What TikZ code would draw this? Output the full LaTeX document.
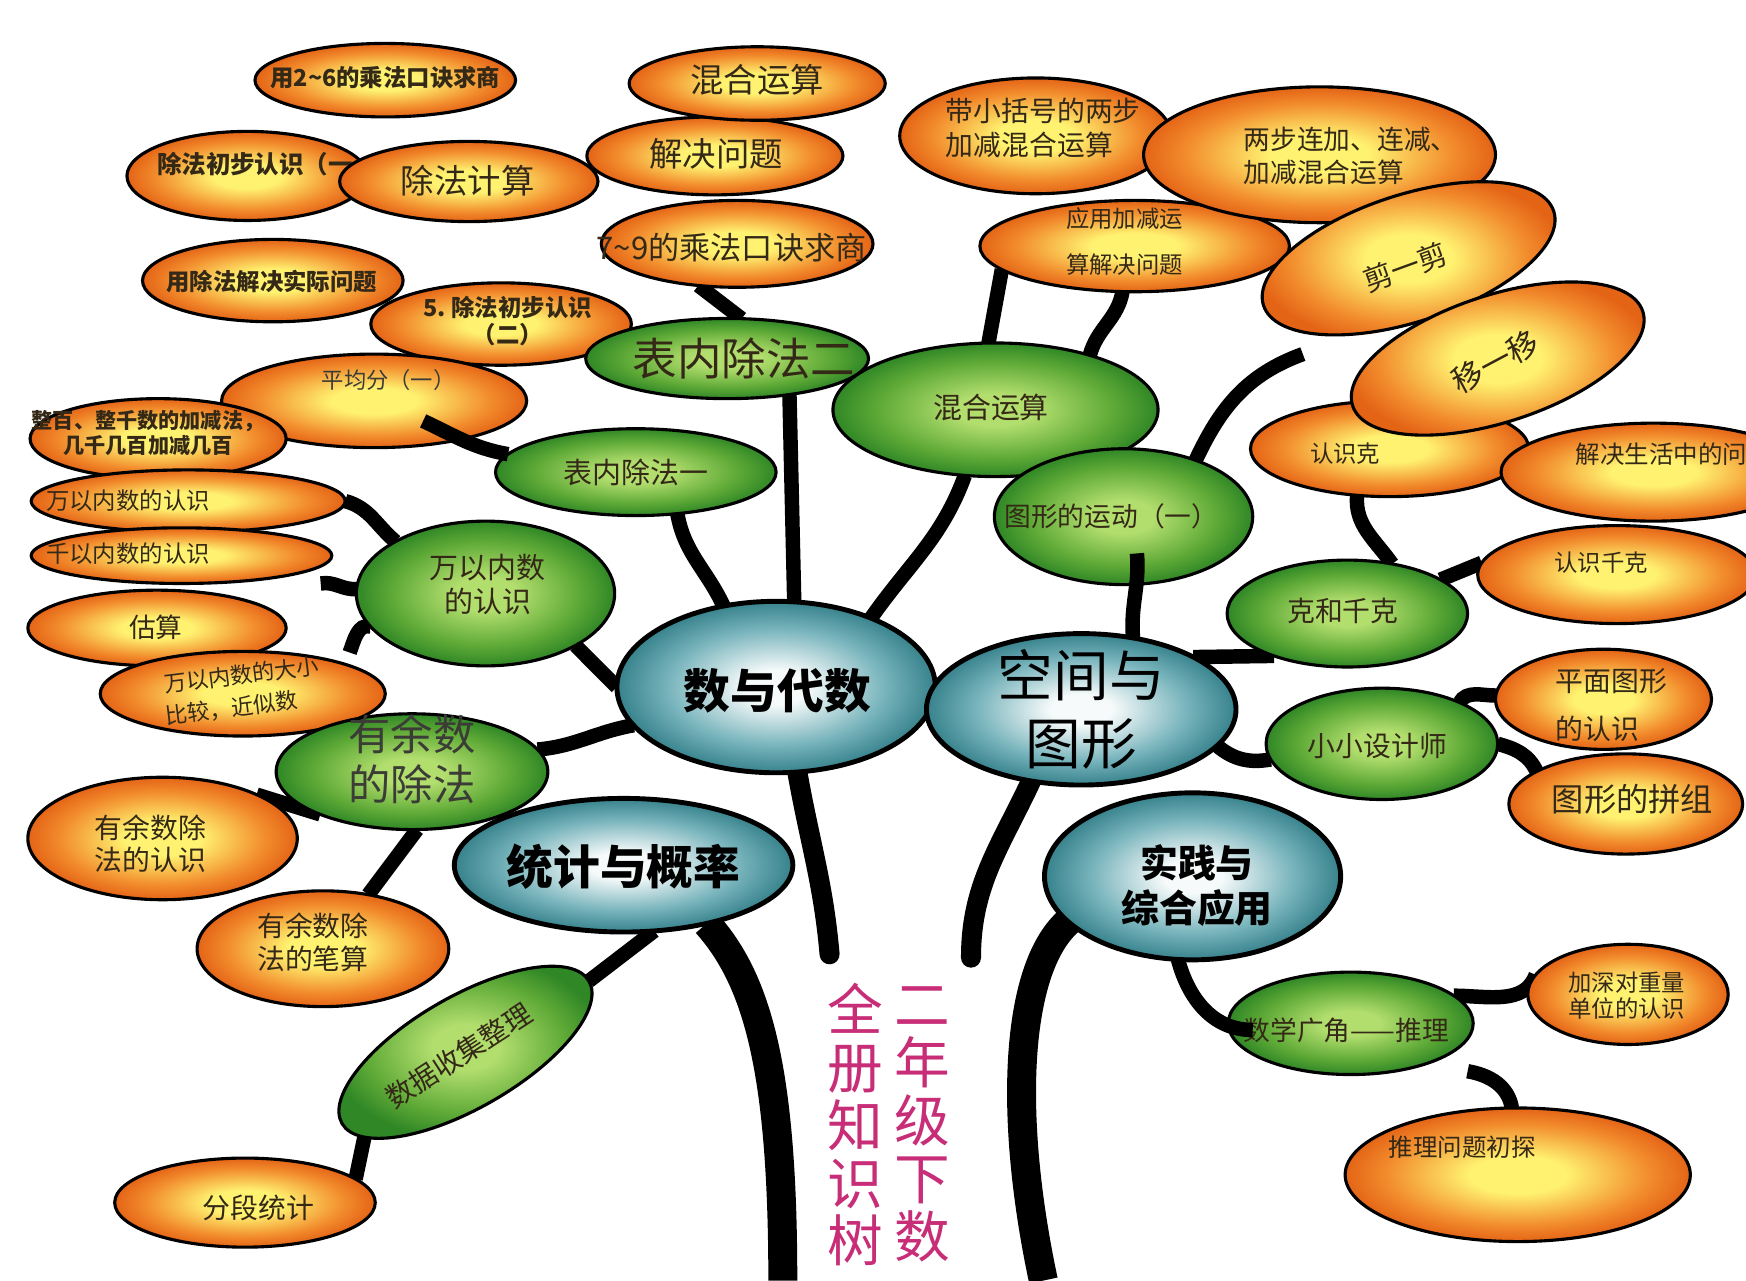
\documentclass[tikz,border=0pt]{standalone}
\usepackage{fontspec}
\setmainfont{Noto Sans CJK SC}
\usetikzlibrary{shapes.geometric,calc}
\definecolor{txt}{RGB}{52,40,22}
\definecolor{gtxt}{RGB}{60,60,55}
\definecolor{ttlc}{RGB}{200,45,120}
\definecolor{oA}{RGB}{255,242,112}
\definecolor{oB}{RGB}{242,140,45}
\definecolor{oC}{RGB}{228,100,22}
\definecolor{gA}{RGB}{178,222,110}
\definecolor{gB}{RGB}{95,170,55}
\definecolor{gC}{RGB}{48,135,38}
\definecolor{tA}{RGB}{246,250,250}
\definecolor{tB}{RGB}{120,180,188}
\definecolor{tC}{RGB}{55,130,140}
\pgfdeclareradialshading{oshade}{\pgfpoint{0bp}{0bp}}{color(0bp)=(oA); color(7bp)=(oA); color(19bp)=(oB); color(25bp)=(oC); color(50bp)=(oC)}
\pgfdeclareradialshading{gshade}{\pgfpoint{0bp}{0bp}}{color(0bp)=(gA); color(6bp)=(gA); color(18bp)=(gB); color(25bp)=(gC); color(50bp)=(gC)}
\pgfdeclareradialshading{tshade}{\pgfpoint{0bp}{0bp}}{color(0bp)=(tA); color(5bp)=(tA); color(17bp)=(tB); color(25bp)=(tC); color(50bp)=(tC)}
\pgfdeclarelayer{bg}\pgfdeclarelayer{fg}\pgfsetlayers{bg,main,fg}
\newcommand\fz[2]{\fontsize{#1}{#2}\selectfont}
\tikzset{
  base/.style={ellipse, draw=black, line width=1.4pt, inner sep=0pt, outer sep=0pt},
  O/.style={base, shading=oshade},
  G/.style={base, shading=gshade},
  T/.style={base, line width=2.2pt, shading=tshade},
  sz/.style 2 args={minimum width=#1pt, minimum height=#2pt},
  L/.style={align=center, text=txt, inner sep=0pt},
  br/.style={line width=6.5pt, black},
  trk/.style={line width=9pt, black, line cap=round},
  btrk/.style={line width=13pt, black},
  titletext/.style={text=ttlc, font=\fz{25}{26}, align=center, inner sep=0pt}
}
\begin{document}
\begin{tikzpicture}[x=0.5pt,y=-0.5pt]
\useasboundingbox (0,0) rectangle (1568,1150);
\begin{pgfonlayer}{bg}\fill[white] (0,0) rectangle (1568,1150);\end{pgfonlayer}
\clip (0,0) rectangle (1568,1150);

% ---------- orange, top left ----------
\node[O, sz={117}{33}] (o1) at (346,72) {};
\node[L, font=\fz{10.5}{12}\bfseries] (o1t) at (346,70) {用2\textasciitilde6的乘法口诀求商};
\node[O, sz={108}{40}] (o2) at (222,158) {};
\node[L, font=\fz{11}{13}\bfseries] (o2t) at (229,147) {除法初步认识（一};
\node[O, sz={116}{36}] (o3) at (421,163) {};
\node[L, font=\fz{15}{18}] (o3t) at (420,162) {除法计算};
\node[O, sz={115}{35}] (o4) at (642,140) {};
\node[L, font=\fz{15}{18}] (o4t) at (643,138) {解决问题};
\node[O, sz={115}{33}] (o5) at (680,75) {};
\node[L, font=\fz{15}{18}] (o5t) at (680,72) {混合运算};
\node[O, sz={122}{39}] (o6) at (662,219) {};
\node[L, font=\fz{14}{17}] (o6t) at (657,222) {7\textasciitilde9的乘法口诀求商};
\node[O, sz={117}{37}] (o7) at (245,252) {};
\node[L, font=\fz{10.5}{12}\bfseries] (o7t) at (244,253) {用除法解决实际问题};
\node[O, sz={117}{37}] (o8) at (450,291) {};
\node[L, font=\fz{10.5}{12}\bfseries] (o8t) at (456,288) {5.\ 除法初步认识\\（二）};
\node[O, sz={137}{42}] (o9) at (336,360) {};
\node[L, text=gtxt, font=\fz{10}{12}] (o9t) at (349,341) {平均分（一）};
\node[O, sz={115}{36}] (o10) at (142,394) {};
\node[L, font=\fz{9.5}{11}\bfseries] (o10t) at (133,389) {整百、整千数的加减法，\\几千几百加减几百};
\node[O, sz={141}{28}] (o11) at (169,450) {};
\node[L, font=\fz{10.5}{12}] (o11t) at (115,450) {万以内数的认识};
\node[O, sz={135}{25}] (o12) at (163,499) {};
\node[L, font=\fz{10.5}{12}] (o12t) at (115,497) {千以内数的认识};
\node[O, sz={116}{34}] (o13) at (141,564) {};
\node[L, font=\fz{12}{14}] (o13t) at (140,563) {估算};
\node[O, sz={128}{38}] (o14) at (218,623) {};
\node[L, rotate=7, font=\fz{10}{12}] (o14a) at (217,606) {万以内数的大小};
\node[L, rotate=7, font=\fz{10}{12}] (o14b) at (208,636) {比较，近似数};
\node[O, sz={121}{55}] (o15) at (146,753) {};
\node[L, font=\fz{12.5}{14.5}] (o15t) at (135,758) {有余数除\\法的认识};
\node[O, sz={113}{52}] (o16) at (290,852) {};
\node[L, font=\fz{12.5}{15}] (o16t) at (281,846) {有余数除\\法的笔算};
\node[O, sz={117}{40}] (o17) at (220,1080) {};
\node[L, font=\fz{12.5}{15}] (o17t) at (232,1085) {分段统计};

% ---------- orange, right ----------
\node[O, sz={122}{52}] (p1) at (930,122) {};
\node[L, align=left, font=\fz{12.5}{15}] (p1t) at (937,115) {带小括号的两步\\加减混合运算};
\node[O, sz={139}{41}] (p3) at (1019,221) {};
\node[L, font=\fz{10.5}{20.5}] (p3t) at (1010,217) {应用加减运\\算解决问题};
\node[O, sz={158}{61}] (p2) at (1185,139) {};
\node[L, align=left, font=\fz{12}{15}] (p2t) at (1213,140) {两步连加、连减、\\加减混合运算};
\node[O, sz={137}{57}, rotate=18] (p4) at (1265,232) {};
\node[L, rotate=20, font=\fz{13}{16}] (p4t) at (1262,240) {剪一剪};
\node[O, sz={125}{43}] (p6) at (1248,403) {};
\node[L, font=\fz{10.5}{12}] (p6t) at (1208,407) {认识克};
\node[O, sz={137}{57}, rotate=18] (p5) at (1345,322) {};
\node[L, rotate=28, font=\fz{14}{17}] (p5t) at (1343,325) {移一移};
\node[O, sz={137}{44}] (p7) at (1485,424) {};
\node[L, font=\fz{11}{13}] (p7t) at (1492,408) {解决生活中的问};
\node[O, sz={125}{44}] (p8) at (1452,516) {};
\node[L, font=\fz{10.5}{12}] (p8t) at (1438,505) {认识千克};
\node[O, sz={97}{45}] (p9) at (1440,628) {};
\node[L, align=left, font=\fz{12.5}{21.5}] (p9t) at (1447,633) {平面图形\\的认识};
\node[O, sz={105}{45}] (p10) at (1460,722) {};
\node[L, font=\fz{14.5}{17}] (p10t) at (1466,718) {图形的拼组};
\node[O, sz={90}{45}] (p11) at (1462,893) {};
\node[L, font=\fz{10.5}{12}] (p11t) at (1461,894) {加深对重量\\单位的认识};
\node[O, sz={155}{60}] (p12) at (1363,1055) {};
\node[L, font=\fz{11}{13}] (p12t) at (1313,1030) {推理问题初探};

% ---------- green ----------
\node[G, sz={127}{36}] (bn2) at (653,322) {};
\node[L, font=\fz{20}{24}] (bn2t) at (668,322) {表内除法二};
\node[G, sz={146}{60}] (hh) at (894,368) {};
\node[L, font=\fz{13}{16}] (hht) at (890,366) {混合运算};
\node[G, sz={126}{39}] (bn1) at (571,424) {};
\node[L, font=\fz{13}{16}] (bn1t) at (571,424) {表内除法一};
\node[G, sz={116}{61}] (tx) at (1009,464) {};
\node[L, font=\fz{12}{14}] (txt) at (998,464) {图形的运动（一）};
\node[G, sz={116}{65}] (wy) at (436,533) {};
\node[L, font=\fz{13}{15.5}] (wyt) at (438,525) {万以内数\\的认识};
\node[G, sz={108}{48}] (kq) at (1210,551) {};
\node[L, font=\fz{12.5}{15}] (kqt) at (1206,549) {克和千克};
\node[G, sz={122}{52}] (ys) at (370,693) {};
\node[L, text=gtxt, font=\fz{19}{22.5}] (yst) at (370,682) {有余数\\的除法};
\node[G, sz={104}{50}] (xx) at (1241,668) {};
\node[L, font=\fz{12.5}{15}] (xxt) at (1237,670) {小小设计师};
\node[G, sz={128}{50}, rotate=30] (sx) at (418,945) {};
\node[L, rotate=33, font=\fz{12.5}{15}] (sxt) at (412,948) {数据收集整理};
\node[G, sz={110}{46}] (dx) at (1213,919) {};
\node[L, font=\fz{12}{14}] (dxt) at (1209,925) {数学广角——推理};

% ---------- teal ----------
\node[T, sz={143}{77}] (sd) at (697,617) {};
\node[L, text=black, font=\fz{21}{25}\bfseries] (sdt) at (698,620) {数与代数};
\node[T, sz={139}{68}] (kj) at (971,637) {};
\node[L, text=black, font=\fz{25}{30.5}] (kjt) at (971,637) {空间与\\图形};
\node[T, sz={152}{60}] (tj) at (560,777) {};
\node[L, text=black, font=\fz{21}{25}\bfseries] (tjt) at (560,778) {统计与概率};
\node[T, sz={133}{75}] (sj) at (1071,787) {};
\node[L, text=black, font=\fz{17}{20}\bfseries] (sjt) at (1075,795) {实践与\\综合应用};

% ---------- title ----------
\node[titletext] (title1) at (768,1010) {全\\册\\知\\识\\树};
\node[titletext] (title2) at (828,1010) {二\\年\\级\\下\\数};

% ---------- free ends ----------
\coordinate (tl) at (745,857);
\coordinate (tr) at (872,860);
\coordinate (bl) at (703,1150);
\coordinate (brt) at (937,1150);
\coordinate (s1) at (288,524);
\coordinate (s2) at (314,586);
\coordinate (s4) at (1318,962);
\coordinate (s5) at (1170,318);

% ---------- branches (behind) ----------
\begin{pgfonlayer}{bg}
\draw[br] (sd.78) -- (bn2.-30);
\draw[br] (sd.123) to[out=115,in=-80] (bn1.-45);
\draw[br] (sd.36) to[out=55,in=-110] (hh.-115);
\draw[br] (sd.180) to[out=135,in=-45] (wy.-30);
\draw[br] (sd.195) to[out=190,in=5] (ys.10);
\draw[trk] (sd.-76) to[out=-80,in=95] (tl);
\draw[trk] (kj.-125) to[out=-115,in=90] (tr);
\draw[btrk] (tj.-35) .. controls (680,880) and (703,960) .. (bl);
\draw[btrk] (sj.-160) .. controls (912,870) and (905,1000) .. (brt);
\draw[br] (bn2.70) -- (o6.-133);
\draw[br] (o11.east) to[out=-15,in=140] (wy.150);
\draw[br] (wy.178) to[out=185,in=10] (s1);
\draw[br] (wy.196) to[out=165,in=70] (s2);
\draw[br] (ys.205) -- (o15.25);
\draw[br] (ys.-85) -- (o16.50);
\draw[br] (tj.-65) -- (sx.east);
\draw[br] (sx.190) -- (o17.12);
\draw[br] (hh.96) -- (p3.190);
\draw[br] (hh.30) to[out=75,in=-100] (p3.-105);
\draw[br] (tx.38) to[out=65,in=200] (s5);
\draw[br] (p6.-125) to[out=-95,in=125] (kq.48);
\draw[br] (kq.20) -- (p8.175);
\draw[br] (kj.25) -- (kq.-150);
\draw[br] (kj.-15) to[out=-40,in=190] (xx.188);
\draw[br] (xx.28) to[out=60,in=180] (p9.178);
\draw[br] (xx.0) to[out=-15,in=115] (p10.160);
\draw[br] (dx.15) to[out=0,in=-110] (p11.168);
\draw[br] (s4) to[out=-10,in=100] (p12.95);
\end{pgfonlayer}

% ---------- branches drawn over nodes ----------
\begin{pgfonlayer}{fg}
\draw[br] ($(o9)+(44,18)$) to[out=-25,in=170] (bn1.172);
\draw[br] (kj.54) to[out=95,in=-85] ($(tx)+(12,33)$);
\draw[br] (sj.-100) to[out=-75,in=180] ($(dx)+(-88,6)$);
\end{pgfonlayer}
\end{tikzpicture}
\end{document}
